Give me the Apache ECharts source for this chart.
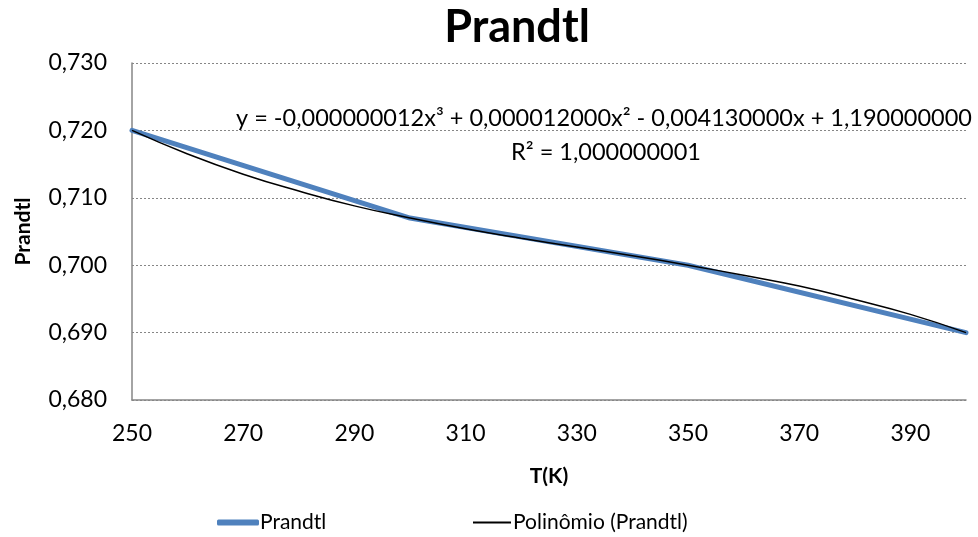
<!DOCTYPE html>
<html><head><meta charset="utf-8">
<script src="https://cdn.jsdelivr.net/npm/echarts@6/dist/echarts.min.js"></script>
<style>html,body{margin:0;padding:0;background:#fff}#c{width:978px;height:537px}</style>
</head><body><div id="c"></div>
<script>
const FONT = 'Lato, "Open Sans", sans-serif';
const tempK = [250, 300, 350, 400];
const prandtl = [0.720, 0.707, 0.700, 0.690];
const trendT = [250, 260, 270, 280, 290, 300, 310, 320, 330, 340, 350, 360, 370, 380, 390, 400];
const trendValues = [0.7200, 0.7165, 0.7135, 0.7110, 0.7088, 0.7070, 0.7054, 0.7040, 0.7027, 0.7014, 0.7000, 0.6985, 0.6969, 0.6949, 0.6927, 0.6900];
const titleText = 'Prandtl';
const equationText = 'y = -0,000000012x³ + 0,000012000x² - 0,004130000x + 1,190000000';
const r2Text = 'R² = 1,000000001';

const chart = echarts.init(document.getElementById('c'));
chart.setOption({
  animation: false,
  textStyle: { fontFamily: FONT },
  grid: { left: 132, right: 12, top: 63, bottom: 137 },
  legend: [
    { left: 212, top: 507, itemWidth: 42, itemHeight: 6, itemGap: 6,
      textStyle: { fontFamily: FONT, fontSize: 21, color: '#000', padding: [0, 0, 0, -4] },
      data: [{ name: 'Prandtl', icon: 'roundRect', itemStyle: { color: '#4F81BD' } }] },
    { left: 468, top: 507, itemWidth: 38, itemHeight: 2, itemGap: 6,
      textStyle: { fontFamily: FONT, fontSize: 21, color: '#000', padding: [0, 0, 0, -3] },
      data: [{ name: 'Polinômio (Prandtl)', icon: 'rect', itemStyle: { color: '#000' } }] }
  ],
  xAxis: {
    type: 'value', min: 250, max: 400, interval: 10,
    name: 'T(K)', nameLocation: 'middle', nameGap: 66,
    nameTextStyle: { fontFamily: FONT, fontSize: 21, fontWeight: 'bold', color: '#000' },
    axisLine: { lineStyle: { color: '#868686', width: 1.5 } },
    axisTick: { show: false },
    splitLine: { show: false },
    axisLabel: { fontFamily: FONT, fontSize: 23, color: '#000', margin: 22,
      formatter: v => ((v - 250) % 20 === 0 && v < 400) ? String(v) : '' }
  },
  yAxis: {
    type: 'value', min: 0.68, max: 0.73, interval: 0.01,
    name: 'Prandtl', nameLocation: 'middle', nameGap: 98, nameRotate: 90,
    nameTextStyle: { fontFamily: FONT, fontSize: 21, fontWeight: 'bold', color: '#000' },
    axisLine: { show: true, lineStyle: { color: '#868686', width: 1.5 } },
    axisTick: { show: false },
    splitLine: { lineStyle: { color: '#868686', type: [2, 2], width: 1 } },
    axisLabel: { fontFamily: FONT, fontSize: 23, color: '#000', margin: 25,
      formatter: v => v.toFixed(3).replace('.', ',') }
  },
  series: [
    { name: 'Prandtl', type: 'line', data: tempK.map((t, i) => [t, prandtl[i]]),
      showSymbol: false, symbol: 'none', lineStyle: { color: '#4F81BD', width: 5, cap: 'round' },
      itemStyle: { color: '#4F81BD' }, z: 2 },
    { name: 'Polinômio (Prandtl)', type: 'line', data: trendT.map((t, i) => [t, trendValues[i]]),
      smooth: true, showSymbol: false, symbol: 'none', lineStyle: { color: '#000', width: 1.5 },
      itemStyle: { color: '#000' }, z: 3 }
  ],
  graphic: [
    { type: 'text', x: 517, y: 27, style: { text: titleText, font: 'bold 45px ' + FONT, fill: '#000', textAlign: 'center', textVerticalAlign: 'middle' } },
    { type: 'text', x: 604, y: 118, style: { text: equationText, font: '23.5px ' + FONT, fill: '#000', textAlign: 'center', textVerticalAlign: 'middle' } },
    { type: 'text', x: 606, y: 152, style: { text: r2Text, font: '23.5px ' + FONT, fill: '#000', textAlign: 'center', textVerticalAlign: 'middle' } }
  ]
});
</script></body></html>
